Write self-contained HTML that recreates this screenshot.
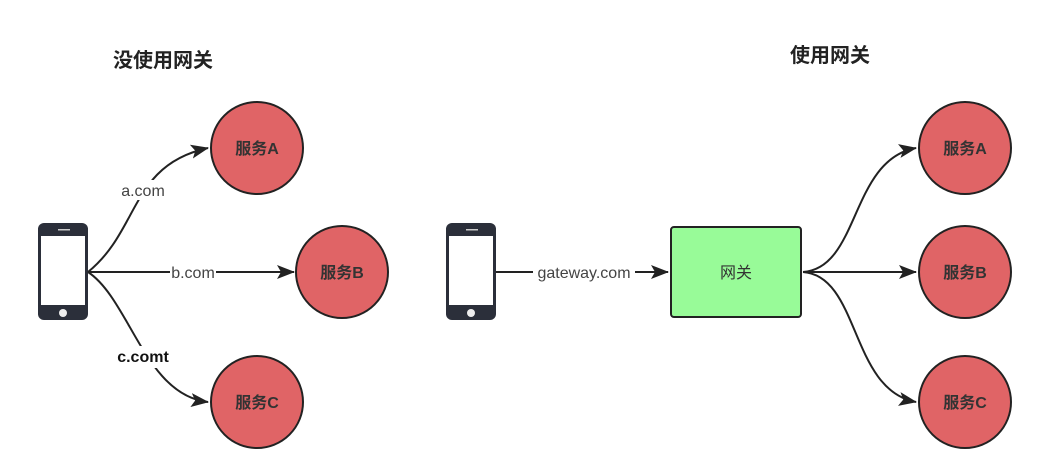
<!DOCTYPE html>
<html><head><meta charset="utf-8"><style>
body{margin:0;background:#fff;}
svg{display:block}
</style></head><body>
<svg width="1055" height="470" viewBox="0 0 1055 470" xmlns="http://www.w3.org/2000/svg" font-family="'Liberation Sans','Noto Sans CJK SC',sans-serif">
<defs>
<marker id="ar" markerWidth="18" markerHeight="14" refX="17" refY="7" orient="auto" markerUnits="userSpaceOnUse" viewBox="0 0 18 14">
<path d="M0,0 L18,7 L0,14 L4,7 Z" fill="#222"/></marker>
<g id="phone">
<rect x="0" y="0" width="50" height="97" rx="6" fill="#2b2f3a"/>
<rect x="3" y="13" width="44" height="69" fill="#fff"/>
<circle cx="25" cy="90" r="4" fill="#eee"/>
<rect x="20" y="6" width="12" height="1.5" fill="#ccc"/>
</g>
</defs>
<text x="113" y="67" font-size="20" font-weight="bold" fill="#222">没使用网关</text>
<text x="790" y="62" font-size="20" font-weight="bold" fill="#222">使用网关</text>

<use href="#phone" x="38" y="223"/>
<use href="#phone" x="446" y="223"/>

<g fill="none" stroke="#222" stroke-width="2">
<path d="M88,272 C140,230 130,165 208,148" marker-end="url(#ar)"/>
<path d="M88,272 L294,272" marker-end="url(#ar)"/>
<path d="M88,272 C130,300 145,395 208,402" marker-end="url(#ar)"/>
<path d="M496,272 L668,272" marker-end="url(#ar)"/>
<path d="M803,272 C860,268 850,160 916,148" marker-end="url(#ar)"/>
<path d="M803,272 L916,272" marker-end="url(#ar)"/>
<path d="M803,272 C860,276 850,390 916,402" marker-end="url(#ar)"/>
</g>

<g font-size="16" fill="#444" text-anchor="middle">
<rect x="120" y="180" width="46" height="20" fill="#fff"/>
<text x="143" y="196">a.com</text>
<rect x="170" y="262" width="46" height="20" fill="#fff"/>
<text x="193" y="278">b.com</text>
<rect x="112" y="346" width="62" height="22" fill="#fff"/>
<text x="143" y="362" font-weight="bold" fill="#111">c.comt</text>
<rect x="533" y="262" width="102" height="20" fill="#fff"/>
<text x="584" y="278">gateway.com</text>
</g>

<rect x="671" y="227" width="130" height="90" rx="3" fill="#98fb98" stroke="#222" stroke-width="2"/>
<text x="736" y="278" font-size="16" fill="#333" text-anchor="middle">网关</text>

<g fill="#e06466" stroke="#222" stroke-width="2">
<circle cx="257" cy="148" r="46"/>
<circle cx="342" cy="272" r="46"/>
<circle cx="257" cy="402" r="46"/>
<circle cx="965" cy="148" r="46"/>
<circle cx="965" cy="272" r="46"/>
<circle cx="965" cy="402" r="46"/>
</g>
<g font-size="16" font-weight="bold" fill="#333" text-anchor="middle">
<text x="257" y="154">服务A</text>
<text x="342" y="278">服务B</text>
<text x="257" y="408">服务C</text>
<text x="965" y="154">服务A</text>
<text x="965" y="278">服务B</text>
<text x="965" y="408">服务C</text>
</g>
</svg>
</body></html>
